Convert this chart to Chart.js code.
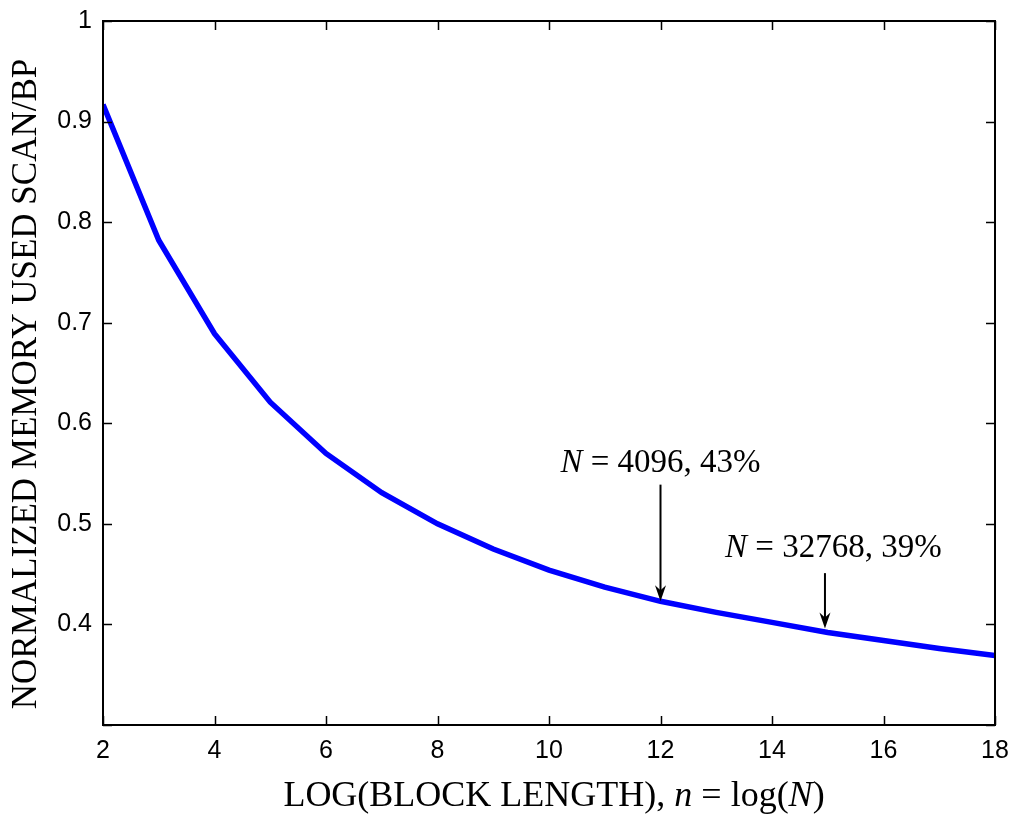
<!DOCTYPE html>
<html>
<head>
<meta charset="utf-8">
<script src="https://cdn.jsdelivr.net/npm/chart.js@4.4.1/dist/chart.umd.min.js"></script>
<style>
  html, body { margin: 0; padding: 0; background: #fff; }
  #wrap { width: 1013px; height: 815px; }
</style>
</head>
<body>
<div id="wrap"><canvas id="memoryChart"></canvas></div>
<script>
// Normalized memory used, SCAN vs BP, against n = log(N)
const blockLog = [2, 3, 4, 5, 6, 7, 8, 9, 10, 11, 12, 13, 14, 15, 16, 17, 18];
const memoryUsed = [0.917, 0.782, 0.689, 0.621, 0.570, 0.531, 0.500, 0.475, 0.454,
                    0.437, 0.423, 0.412, 0.402, 0.392, 0.384, 0.376, 0.369];

// arrow annotations (data units)
const noteLabels = [['4096', '43%'], ['32768', '39%']];
const noteX = [12, 14.95];
const noteArrowFrom = [0.539, 0.451];
const noteArrowTo = [0.423, 0.396];
const noteTextX = [12, 15.1];
const noteTextY = [0.552, 0.467];

const serif = '"Liberation Serif", "Times New Roman", serif';
const sans = '"Liberation Sans", Arial, sans-serif';

// draws runs of text with different fonts, centred on x
function drawRich(ctx, parts, x, y) {
  let total = 0;
  parts.forEach(p => { ctx.font = p.font; total += ctx.measureText(p.text).width; });
  let cx = x - total / 2;
  ctx.textAlign = 'left';
  parts.forEach(p => {
    ctx.font = p.font;
    ctx.fillText(p.text, cx, y);
    cx += ctx.measureText(p.text).width;
  });
}

const matlabFrame = {
  id: 'matlabFrame',
  afterDraw(chart) {
    const ctx = chart.ctx;
    const a = chart.chartArea;
    const xs = chart.scales.x;
    const ys = chart.scales.y;
    const tl = 9;
    ctx.save();
    ctx.strokeStyle = '#000';
    ctx.lineWidth = 2;
    ctx.strokeRect(a.left, a.top, a.right - a.left, a.bottom - a.top);

    // inward ticks on all four sides
    ctx.lineWidth = 1.5;
    ctx.beginPath();
    xs.ticks.forEach(t => {
      const px = Math.round(xs.getPixelForValue(t.value)) + 0.5;
      ctx.moveTo(px, a.bottom); ctx.lineTo(px, a.bottom - tl);
      ctx.moveTo(px, a.top); ctx.lineTo(px, a.top + tl);
    });
    ys.ticks.forEach(t => {
      const py = Math.round(ys.getPixelForValue(t.value)) + 0.5;
      ctx.moveTo(a.left, py); ctx.lineTo(a.left + tl, py);
      ctx.moveTo(a.right, py); ctx.lineTo(a.right - tl, py);
    });
    ctx.stroke();

    // arrows and labels
    ctx.fillStyle = '#000';
    ctx.textBaseline = 'alphabetic';
    noteLabels.forEach((lab, i) => {
      const px = xs.getPixelForValue(noteX[i]);
      const y0 = ys.getPixelForValue(noteArrowFrom[i]);
      const y1 = ys.getPixelForValue(noteArrowTo[i]);
      ctx.lineWidth = 2;
      ctx.beginPath();
      ctx.moveTo(px, y0); ctx.lineTo(px, y1 - 8);
      ctx.stroke();
      ctx.beginPath();
      ctx.moveTo(px, y1);
      ctx.lineTo(px - 5.5, y1 - 16);
      ctx.lineTo(px, y1 - 11);
      ctx.lineTo(px + 5.5, y1 - 16);
      ctx.closePath();
      ctx.fill();

      drawRich(ctx, [
        { text: 'N', font: 'italic 33px ' + serif },
        { text: ' = ' + lab[0] + ', ' + lab[1], font: '33px ' + serif }
      ], xs.getPixelForValue(noteTextX[i]), ys.getPixelForValue(noteTextY[i]));
    });

    // axis titles
    drawRich(ctx, [
      { text: 'LOG(BLOCK LENGTH), ', font: '36px ' + serif },
      { text: 'n', font: 'italic 36px ' + serif },
      { text: ' = log(', font: '36px ' + serif },
      { text: 'N', font: 'italic 36px ' + serif },
      { text: ')', font: '36px ' + serif }
    ], 554, 806);

    ctx.translate(36, 384);
    ctx.rotate(-Math.PI / 2);
    ctx.textAlign = 'center';
    ctx.font = '35px ' + serif;
    ctx.fillText('NORMALIZED MEMORY USED SCAN/BP', 0, 0);
    ctx.restore();
  }
};

new Chart(document.getElementById('memoryChart'), {
  type: 'line',
  data: {
    labels: blockLog,
    datasets: [{
      data: blockLog.map((n, i) => ({ x: n, y: memoryUsed[i] })),
      borderColor: '#0000ff',
      borderWidth: 5.5,
      pointRadius: 0,
      tension: 0,
      fill: false
    }]
  },
  options: {
    responsive: true,
    maintainAspectRatio: false,
    animation: false,
    layout: { padding: { top: 21, right: 18, left: 0, bottom: 0 } },
    plugins: {
      legend: { display: false },
      tooltip: { enabled: false }
    },
    scales: {
      x: {
        type: 'linear',
        min: 2,
        max: 18,
        grid: { display: false, drawTicks: false },
        border: { display: false },
        ticks: {
          stepSize: 2,
          padding: 11,
          color: '#000',
          font: { family: sans, size: 25 }
        },
        afterFit(scale) {
          scale.height = 90;
          scale.paddingLeft = 0;
          scale.paddingRight = 0;
        }
      },
      y: {
        min: 0.3,
        max: 1,
        grid: { display: false, drawTicks: false },
        border: { display: false },
        ticks: {
          stepSize: 0.1,
          padding: 11,
          color: '#000',
          font: { family: sans, size: 25 },
          callback: function(value) {
            const v = Math.round(value * 10) / 10;
            return v < 0.35 ? '' : String(v);
          }
        },
        afterFit(scale) {
          scale.width = 103;
          scale.paddingTop = 0;
          scale.paddingBottom = 0;
        }
      }
    }
  },
  plugins: [matlabFrame]
});
</script>
</body>
</html>
